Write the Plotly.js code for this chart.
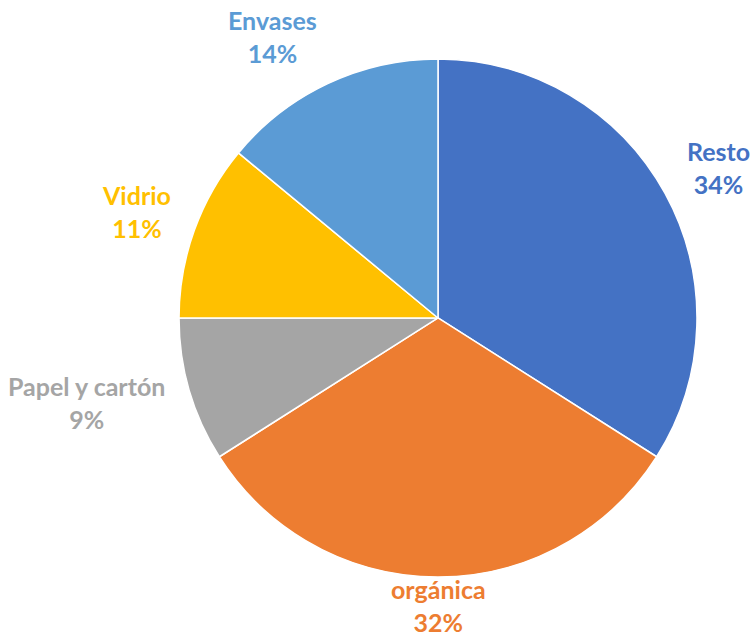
<!DOCTYPE html>
<html>
<head>
<meta charset="utf-8">
<script src="https://cdn.plot.ly/plotly-3.0.1.min.js"></script>
<style>html,body{margin:0;padding:0;background:#fff;}</style>
</head>
<body>
<div id="chart" style="width:750px;height:637px;"></div>
<script>
const categories = ["Resto", "orgánica", "Papel y cartón", "Vidrio", "Envases"];
const values = [34, 32, 9, 11, 14];
const colors = ["#4472C4", "#ED7D31", "#A5A5A5", "#FFC000", "#5B9BD5"];

const W = 750, H = 637;
const domX = [0.2387, 0.9293], domY = [0.0942, 0.9074];
const FONT = "Lato, 'Open Sans', sans-serif";
const FS = 25;

// pie geometry in pixels (derived from the domain)
const cx = (domX[0] + domX[1]) / 2 * W;
const cy = (1 - (domY[0] + domY[1]) / 2) * H;
const R = Math.min((domX[1] - domX[0]) * W, (domY[1] - domY[0]) * H) / 2;

const ctx = document.createElement("canvas").getContext("2d");
ctx.font = "bold " + FS + "px Lato";

const total = values.reduce((a, b) => a + b, 0);
const annotations = [];
let cum = 0;
values.forEach((v, i) => {
  const mid = (cum + v / 2) / total * 2 * Math.PI;
  cum += v;
  const sx = Math.sin(mid), sy = -Math.cos(mid);
  const gap = 25;
  const px = cx + (R + gap) * sx, py = cy + (R + gap) * sy;
  const line1 = categories[i], line2 = v + "%";
  const hw = Math.max(ctx.measureText(line1).width, ctx.measureText(line2).width) / 2;
  const hh = 26;
  const sgn = t => (Math.abs(t) < 0.05 ? 0 : Math.sign(t));
  let x = px + hw * sgn(sx);
  let y = py + hh * sy;
  if (y > H - 30) y = H - 30;
  if (y < 26) y = 26;
  annotations.push({
    xref: "paper", yref: "paper",
    x: x / W, y: 1 - (y - 1.5) / H,
    xanchor: "center", yanchor: "middle",
    showarrow: false,
    align: "center",
    text: "<b>" + line1 + "</b><br><b>" + line2 + "</b>",
    font: {family: FONT, size: FS, color: colors[i]}
  });
});

const trace = {
  type: "pie",
  labels: categories,
  values: values,
  sort: false,
  direction: "clockwise",
  rotation: 0,
  marker: {colors: colors, line: {color: "#ffffff", width: 1.5}},
  textinfo: "none",
  hoverinfo: "label+percent",
  showlegend: false,
  automargin: false,
  domain: {x: domX, y: domY}
};

const layout = {
  width: W,
  height: H,
  margin: {l: 0, r: 0, t: 0, b: 0},
  paper_bgcolor: "#ffffff",
  plot_bgcolor: "#ffffff",
  showlegend: false,
  annotations: annotations
};

Plotly.newPlot("chart", [trace], layout, {displayModeBar: false, staticPlot: true});
</script>
</body>
</html>
